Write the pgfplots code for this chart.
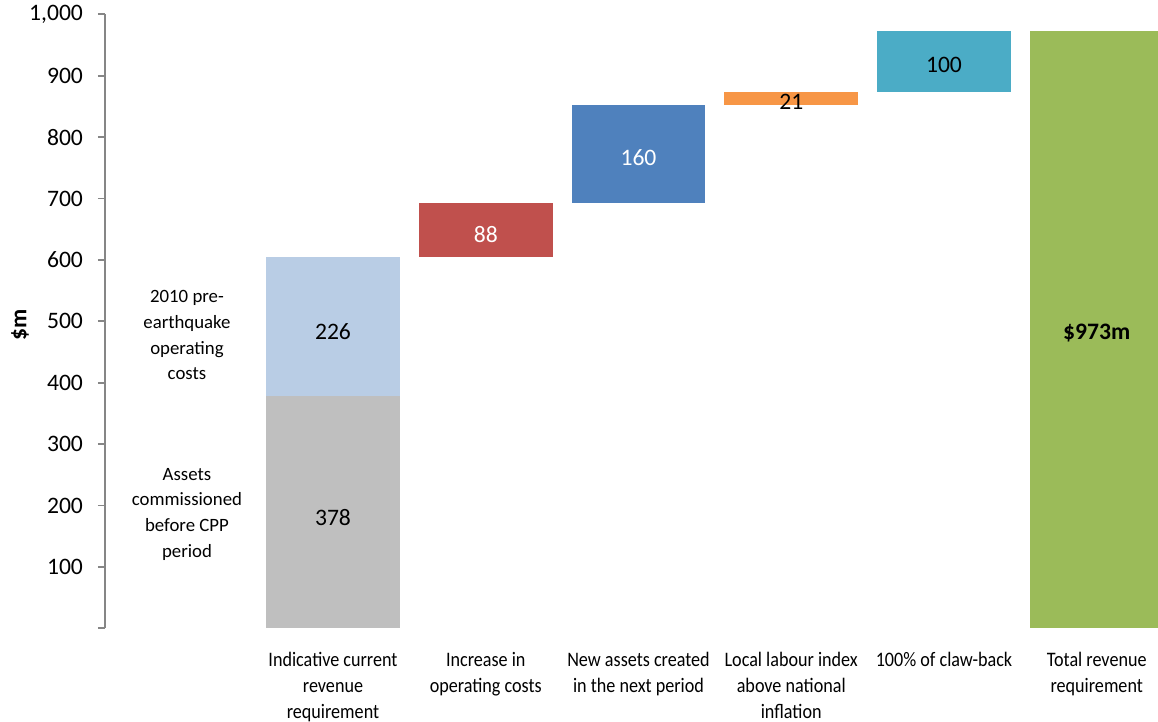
\documentclass[border=0pt]{standalone}
\usepackage{pgfplots}
\pgfplotsset{compat=1.18}
\usepackage{fontspec}
\setmainfont{Carlito}
\newfontfamily\condfont{Carlito}[FakeStretch=0.88]
\definecolor{cgrey}{HTML}{BFBFBF}
\definecolor{clblue}{HTML}{B9CDE5}
\definecolor{cred}{HTML}{C0504D}
\definecolor{cblue}{HTML}{4F81BD}
\definecolor{corange}{HTML}{F79646}
\definecolor{cteal}{HTML}{4BACC6}
\definecolor{cgreen}{HTML}{9BBB59}
\definecolor{caxis}{HTML}{868686}
\tikzset{vlab/.style={font=\fontsize{11.8}{14}\selectfont, anchor=center, inner sep=0pt},
         slab/.style={font=\fontsize{9.4}{12.85}\selectfont, align=center, anchor=center, inner sep=0pt}}
\begin{document}
\begin{tikzpicture}
\useasboundingbox (-52.5pt,-46.85pt) rectangle (526.5pt,314.15pt);
\begin{axis}[
  at={(0,0)}, anchor=south west,
  scale only axis, width=526.5pt, height=307pt,
  xmin=-0.4926, xmax=6.401, ymin=0, ymax=1000,
  ybar stacked, bar width=0.877,
  axis y line*=left, axis x line*=bottom,
  x axis line style={draw=none},
  y axis line style={draw=caxis, line width=0.9pt},
  xtick={1,2,3,4,5,6},
  xtick style={draw=none},
  xticklabels={Indicative current\\revenue\\requirement,
               Increase in\\operating costs,
               New assets created\\in the next period,
               Local labour index\\above national\\inflation,
               100\% of claw-back,
               Total revenue\\requirement},
  xticklabel style={align=center, font=\condfont\fontsize{10.3}{12.9}\selectfont, yshift=-5pt},
  ytick={0,100,200,300,400,500,600,700,800,900,1000},
  yticklabels={,100,200,300,400,500,600,700,800,900,{1,000}},
  ytick style={draw=caxis, line width=0.9pt},
  tick align=outside, major tick length=3.5pt,
  yticklabel style={font=\fontsize{11.8}{14}\selectfont, xshift=-4pt},
  /pgf/number format/assume math mode=true,
]
\addplot[fill=none, draw=none] coordinates {(1,0) (2,604) (3,692) (4,852) (5,873) (6,0)};
\addplot[fill=cgrey, draw=none] coordinates {(1,378) (2,0) (3,0) (4,0) (5,0) (6,0)};
\addplot[fill=clblue, draw=none] coordinates {(1,226) (2,0) (3,0) (4,0) (5,0) (6,0)};
\addplot[fill=cred, draw=none] coordinates {(1,0) (2,88) (3,0) (4,0) (5,0) (6,0)};
\addplot[fill=cblue, draw=none] coordinates {(1,0) (2,0) (3,160) (4,0) (5,0) (6,0)};
\addplot[fill=corange, draw=none] coordinates {(1,0) (2,0) (3,0) (4,21) (5,0) (6,0)};
\addplot[fill=cteal, draw=none] coordinates {(1,0) (2,0) (3,0) (4,0) (5,100) (6,0)};
\addplot[fill=cgreen, draw=none] coordinates {(1,0) (2,0) (3,0) (4,0) (5,0) (6,973)};
\coordinate (l378) at (axis cs:1,181);
\coordinate (l226) at (axis cs:1,483);
\coordinate (l88) at (axis cs:2,642);
\coordinate (l160) at (axis cs:3,766);
\coordinate (l21) at (axis cs:4,858);
\coordinate (l100) at (axis cs:5,918);
\coordinate (l973) at (axis cs:6,481);
\coordinate (lopex) at (axis cs:0.044,477);
\coordinate (lasset) at (axis cs:0.044,186);
\end{axis}
\node[vlab] at (l378) {378};
\node[vlab] at (l226) {226};
\node[vlab, text=white] at (l88) {88};
\node[vlab, text=white] at (l160) {160};
\node[vlab] at (l21) {21};
\node[vlab] at (l100) {100};
\node[vlab, font=\fontsize{11.8}{14}\selectfont\bfseries] at (l973) {\$973m};
\node[slab] at (lopex) {2010 pre-\\earthquake\\operating\\costs};
\node[slab] at (lasset) {Assets\\commissioned\\before CPP\\period};
\node[rotate=90, font=\fontsize{11.8}{14}\selectfont\bfseries] at (-42.5pt,151.6pt) {\$m};
\end{tikzpicture}
\end{document}
